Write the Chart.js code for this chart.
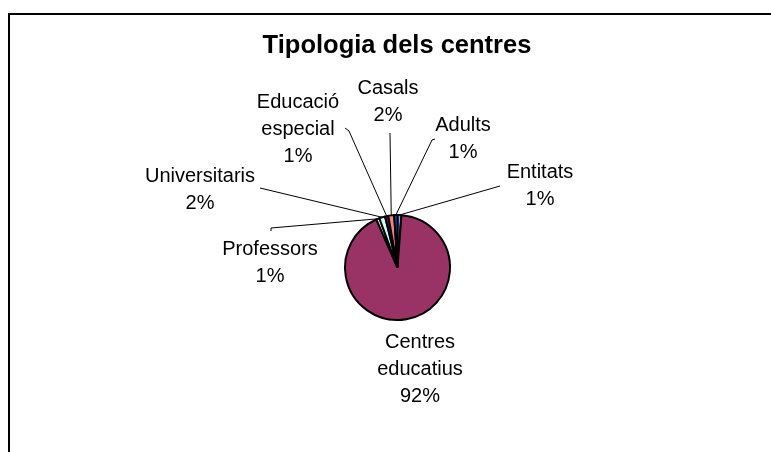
<!DOCTYPE html>
<html>
<head>
<meta charset="utf-8">
<script src="https://cdn.jsdelivr.net/npm/chart.js@4/dist/chart.umd.min.js"></script>
<style>
  html, body { margin: 0; padding: 0; background: #fff; overflow: hidden; }
  #wrap { width: 771px; height: 452px; position: relative; }
</style>
</head>
<body>
<div id="wrap"><canvas id="pie" width="771" height="452"></canvas></div>
<script>
// data, clockwise from 12 o'clock
const categories = ['Entitats', 'Centres educatius', 'Professors', 'Universitaris', 'Educació especial', 'Casals', 'Adults'];
const counts = [6, 460, 5, 9, 5, 9, 5];
const chartTitle = 'Tipologia dels centres';

const colors = ['#9999FF', '#993366', '#FFFFCC', '#CCFFFF', '#660066', '#FF8080', '#0066CC'];

// where each data label sits (text centre of first line) and how its leader starts
const labelLayout = [
    {x: 540, y: 172, lines: ['Entitats'], leader: [[500, 186]]},
    {x: 420, y: 342, lines: ['Centres', 'educatius'], leader: null},
    {x: 270, y: 249, lines: ['Professors'], leader: [[271, 231], [271, 228]]},
    {x: 200, y: 176, lines: ['Universitaris'], leader: [[260, 188]]},
    {x: 298, y: 102, lines: ['Educació', 'especial'], leader: [[345, 128], [349, 131]]},
    {x: 388, y: 88, lines: ['Casals'], leader: [[390, 133]]},
    {x: 463, y: 125, lines: ['Adults'], leader: [[435, 139], [432, 140]]}
];

const FONT = '"Liberation Sans", Arial, sans-serif';

const total = counts.reduce((a, b) => a + b, 0);
function pct(v){
    return Math.round(v / total * 100) + '%';
}

const decorations = {
    id: 'decorations',
    afterDatasetsDraw(chart){
        const ctx = chart.ctx;
        ctx.save();

        // outer frame (cut off right and bottom)
        ctx.strokeStyle = '#000';
        ctx.lineWidth = 2;
        ctx.beginPath();
        ctx.moveTo(9, 452);
        ctx.lineTo(9, 14);
        ctx.lineTo(771, 14);
        ctx.stroke();

        // title
        ctx.fillStyle = '#000';
        ctx.font = 'bold 25.5px ' + FONT;
        ctx.textAlign = 'center';
        ctx.textBaseline = 'middle';
        ctx.fillText(chartTitle, 397, 46);

        // leaders + labels
        const meta = chart.getDatasetMeta(0);
        meta.data.forEach((arc, i) => {
            const p = arc.getProps(['x', 'y', 'startAngle', 'endAngle', 'outerRadius'], true);
            const mid = (p.startAngle + p.endAngle) / 2;
            const ex = p.x + Math.cos(mid) * p.outerRadius;
            const ey = p.y + Math.sin(mid) * p.outerRadius;
            const lay = labelLayout[i];

            if(lay.leader){
                ctx.strokeStyle = '#000';
                ctx.lineWidth = 1;
                ctx.beginPath();
                ctx.moveTo(lay.leader[0][0], lay.leader[0][1]);
                for(let k = 1; k < lay.leader.length; k++) ctx.lineTo(lay.leader[k][0], lay.leader[k][1]);
                ctx.lineTo(ex, ey);
                ctx.stroke();
            }

            ctx.fillStyle = '#000';
            ctx.font = '20px ' + FONT;
            const lines = lay.lines.concat([pct(counts[i])]);
            lines.forEach((t, j) => {
                ctx.fillText(t, lay.x, lay.y + j * 27);
            });
        });
        ctx.restore();
    }
};

new Chart(document.getElementById('pie'), {
    type: 'pie',
    data: {
        labels: categories,
        datasets: [{
            data: counts,
            backgroundColor: colors,
            borderColor: '#000',
            borderWidth: 2
        }]
    },
    options: {
        responsive: false,
        animation: false,
        events: [],
        layout: {padding: {top: 214, bottom: 131, left: 344, right: 320}},
        plugins: {
            legend: {display: false},
            title: {display: false},
            tooltip: {enabled: false}
        }
    },
    plugins: [decorations]
});
</script>
</body>
</html>
